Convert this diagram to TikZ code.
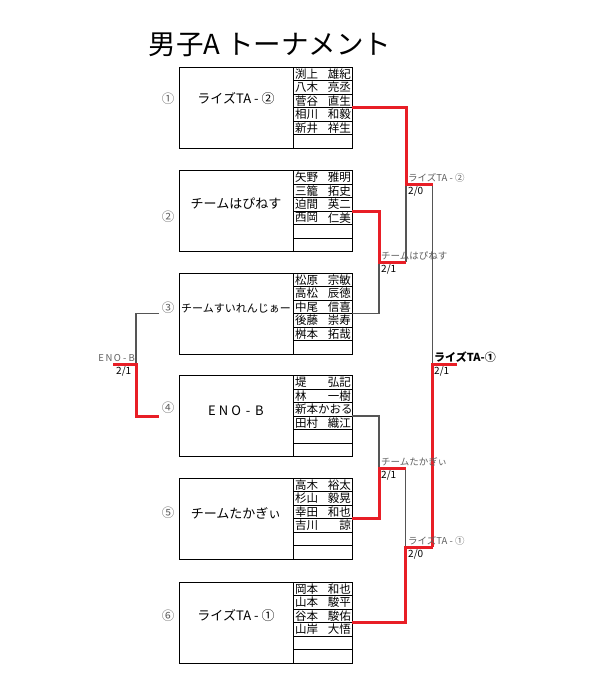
\documentclass[tikz,border=0pt]{standalone}
\usepackage{fontspec}
\setmainfont{Noto Sans CJK JP}
\definecolor{wred}{RGB}{232,30,38}
\definecolor{lgray}{RGB}{85,85,85}
\definecolor{tgray}{RGB}{95,95,95}
\tikzset{
  teambox/.style={draw=black,line width=0.9pt,minimum width=173pt,minimum height=81pt,inner sep=0pt,outer sep=0pt},
  cellline/.style={draw=black,line width=0.8pt},
  titletext/.style={font=\fontsize{27.5}{30}\selectfont,inner sep=0pt},
  teamname/.style={font=\fontsize{13}{14}\selectfont,inner sep=0pt},
  numlabel/.style={font=\fontsize{12.5}{13}\selectfont,text=tgray,inner sep=0pt},
  namel/.style={anchor=west,font=\fontsize{11.5}{12}\selectfont,inner sep=0pt},
  namer/.style={anchor=east,font=\fontsize{11.5}{12}\selectfont,inner sep=0pt},
  lose/.style={draw=lgray,line width=1.3pt},
  win/.style={draw=wred,line width=3pt},
  mlab/.style={anchor=west,font=\fontsize{9.5}{10}\selectfont,text=tgray,inner sep=0pt},
  score/.style={anchor=west,font=\fontsize{10}{10}\selectfont,text=black,inner sep=0pt},
  flab/.style={anchor=west,font=\bfseries\fontsize{11}{12}\selectfont,text=black,inner sep=0pt}
}
\newcommand\teambox[7]{%
  \node[teambox] (#1) at (265.5,#2) {};
  \draw[cellline] (293,#2-40.5) -- (293,#2+40.5);
  \foreach \k in {1,...,5}{\draw[cellline] (293,#2-40.5+13.5*\k) -- (352,#2-40.5+13.5*\k);}
  \node[teamname] (#1t) at (236,#3) {#5};
  \node[numlabel] (#1n) at (168,#4) {#6};
  \foreach \f/\g [count=\i] in {#7}{%
    \node[namel] (#1f\i) at (295,#2-40.5+13.5*\i-6.75) {\f};
    \node[namer] (#1g\i) at (351,#2-40.5+13.5*\i-6.75) {\g};}
}
\begin{document}
\begin{tikzpicture}[x=1pt,y=-1pt]
\useasboundingbox (0,0) rectangle (595,694);
\node[titletext] (title) at (270,45) {男子A トーナメント};

\teambox{b1}{107.5}{99}{99}{ライズTA - ②}{①}{渕上/雄紀,八木/亮丞,菅谷/直生,相川/和毅,新井/祥生}
\teambox{b2}{211}{204}{217}{チームはぴねす}{②}{矢野/雅明,三籠/拓史,迫間/英二,西岡/仁美}
\teambox{b3}{313.5}{308}{308}{\fontsize{11}{12}\selectfont チームすいれんじぁー}{③}{松原/宗敏,高松/辰徳,中尾/信喜,後藤/崇寿,桝本/拓哉}
\teambox{b4}{416}{411}{408}{E\hspace{3pt}N\hspace{3pt}O\hspace{2pt} - \hspace{2pt}B}{④}{堤/弘記,林/一樹,{新本かおる}/{},田村/織江}
\teambox{b5}{518.5}{513}{513}{チームたかぎぃ}{⑤}{高木/裕太,杉山/毅晃,幸田/和也,吉川/諒}
\teambox{b6}{622.5}{616}{616}{ライズTA - ①}{⑥}{岡本/和也,山本/駿平,谷本/駿佑,山岸/大悟}

% junction coordinates
\coordinate (m1) at (406,184);
\coordinate (m1r) at (432.5,184);
\coordinate (m23) at (379,262);
\coordinate (m23r) at (406,262);
\coordinate (m45) at (379,468);
\coordinate (m45r) at (405.5,468);
\coordinate (m6) at (405.5,547);
\coordinate (m6r) at (432.5,547);
\coordinate (fin) at (432.5,364);
\coordinate (finr) at (457,364);
\coordinate (c3) at (159,313.5);
\coordinate (c4) at (159,416);
\coordinate (l34) at (136,364);
\coordinate (l34l) at (113,364);

% losing paths
\draw[lose] (b3.east) -| (m23);
\draw[lose] (m23r) -- (m1);
\draw[lose] (m1r) -- (fin);
\draw[lose] (b4.east) -| (m45);
\draw[lose] (m45r) -- (m6);
\draw[lose] (c3) -| (l34);

% winning paths
\draw[win] (b1.east) -| (m1) -- (m1r);
\draw[win] (b2.east) -| (m23) -- (m23r);
\draw[win] (b5.east) -| (m45) -- (m45r);
\draw[win] (b6.east) -| (m6) -- (m6r);
\draw[win] (m6r) -- (fin) -- (finr);
\draw[win] (l34l) -- (l34) |- (c4);

% match labels
\node[mlab] (w1) at (408,177.5) {ライズTA - ②};
\node[score] (s1) at (408,191) {2/0};
\node[mlab] (w23) at (381,255.5) {チームはぴねす};
\node[score] (s23) at (381,269) {2/1};
\node[mlab] (w45) at (381,461.5) {チームたかぎぃ};
\node[score] (s45) at (381,475) {2/1};
\node[mlab] (w6) at (408,540.5) {ライズTA - ①};
\node[score] (s6) at (408,554) {2/0};
\node[flab] (wf) at (434,357) {ライズTA-①};
\node[score] (sf) at (434,371) {2/1};
\node[mlab,anchor=east] (w34) at (135,358) {E\hspace{1.5pt}N\hspace{1.5pt}O - B};
\node[score] (s34) at (116,371) {2/1};
\end{tikzpicture}
\end{document}
